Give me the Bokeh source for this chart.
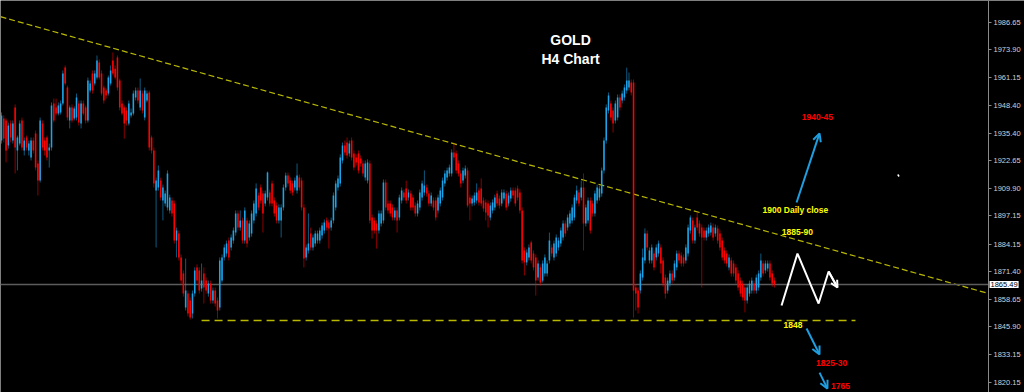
from bokeh.plotting import figure
from bokeh.models import (Label, Arrow, OpenHead, FixedTicker, LinearAxis,
                          NumeralTickFormatter, ColumnDataSource)
from bokeh.core.properties import value
from bokeh.embed import file_html
from bokeh.resources import INLINE

# ---------------- data (GOLD, H4 candles) ----------------
OPEN = [
1932.0,1942.2,1941.3,1929.7,1939.9,1932.0,1947.3,1927.4,1930.6,1941.3,
1927.4,1933.4,1927.4,1924.2,1932.0,1935.2,1921.4,1913.5,1939.9,1932.0,
1933.4,1927.4,1928.8,1949.1,1947.3,1944.5,1945.0,1949.1,1965.7,1956.5,
1941.3,1947.3,1942.2,1942.6,1949.1,1939.9,1949.1,1947.3,1941.3,1955.1,
1963.0,1958.4,1961.1,1968.1,1963.0,1956.5,1955.1,1953.7,1958.4,1969.0,
1965.2,1970.4,1959.7,1949.1,1947.3,1945.9,1939.9,1943.6,1944.5,1951.9,
1955.1,1947.3,1953.7,1942.6,1950.5,1954.2,1933.4,1927.4,1908.9,1910.3,
1913.5,1904.3,1902.9,1901.1,1899.7,1904.3,1902.9,1885.8,1889.0,1878.0,
1870.6,1854.9,1861.3,1858.1,1852.1,1861.3,1873.4,1872.0,1863.6,1870.6,
1867.3,1861.3,1865.9,1858.1,1862.7,1858.1,1854.9,1867.3,1878.0,1879.8,
1885.8,1882.6,1885.8,1889.5,1898.3,1891.8,1895.1,1885.8,1895.1,1887.2,
1889.0,1895.1,1898.3,1906.6,1910.3,1907.5,1902.9,1905.7,1908.0,1912.2,
1904.3,1902.0,1895.1,1895.1,1901.1,1910.3,1915.85,1913.5,1912.2,1910.3,
1908.9,1914.9,1913.5,1901.1,1878.0,1881.2,1889.0,1882.6,1884.4,1885.8,
1885.8,1888.1,1890.4,1895.1,1894.1,1891.8,1895.1,1901.1,1910.3,1912.2,
1922.8,1929.7,1931.1,1926.0,1932.0,1926.0,1924.2,1926.0,1923.7,1921.4,
1914.9,1913.5,1921.4,1896.4,1895.1,1893.7,1890.4,1893.7,1895.1,1912.6,
1902.9,1902.9,1901.1,1896.4,1899.7,1896.4,1904.3,1908.0,1909.8,1905.7,
1907.5,1905.7,1902.0,1898.3,1901.1,1905.7,1908.0,1910.3,1907.5,1902.9,
1904.3,1904.3,1899.7,1902.9,1905.7,1912.2,1914.9,1916.8,1916.8,1926.5,
1926.0,1921.4,1916.8,1913.5,1915.85,1918.2,1905.7,1902.9,1903.4,1904.3,
1908.9,1909.8,1904.3,1903.4,1902.9,1896.4,1899.7,1901.1,1907.5,1905.2,
1902.9,1905.2,1907.5,1902.9,1905.2,1908.9,1908.9,1909.8,1908.0,1899.7,
1881.2,1875.7,1878.0,1884.9,1879.8,1878.0,1868.7,1873.4,1867.3,1870.6,
1870.6,1876.6,1882.6,1878.0,1879.8,1882.6,1884.4,1887.2,1893.7,1891.8,
1893.7,1895.1,1896.4,1904.3,1908.0,1905.7,1910.3,1893.7,1895.1,1904.3,
1902.9,1898.3,1904.3,1905.7,1907.5,1918.2,1932.0,1945.9,1949.1,1945.9,
1941.3,1942.6,1951.9,1950.5,1951.9,1955.1,1956.5,1958.8,1958.8,1864.1,
1862.7,1862.7,1868.7,1876.6,1889.0,1876.6,1876.6,1879.8,1878.0,1879.8,
1882.6,1876.6,1868.7,1862.7,1865.9,1870.6,1868.7,1873.4,1879.8,1878.9,
1878.0,1876.6,1879.8,1890.4,1895.1,1885.8,1896.4,1893.7,1891.8,1890.4,
1887.2,1889.0,1889.5,1891.8,1889.0,1891.4,1889.0,1885.8,1881.2,1879.8,
1873.4,1876.6,1875.2,1873.4,1870.6,1867.3,1865.9,1864.1,1858.1,1861.3,
1862.7,1865.9,1862.7,1864.1,1868.7,1875.2,1872.0,1872.9,1875.2,1870.6,
1867.3]

HIGH = [
1945.0,1943.6,1942.2,1940.3,1941.3,1941.3,1948.7,1934.3,1941.3,1942.6,
1933.4,1934.3,1932.0,1933.4,1933.4,1936.6,1922.8,1942.6,1941.3,1933.4,
1934.3,1930.6,1949.6,1951.4,1951.4,1949.6,1950.5,1964.4,1966.7,1957.4,
1948.2,1948.7,1947.8,1953.7,1950.5,1950.5,1950.5,1948.2,1961.1,1959.7,
1964.4,1964.4,1971.3,1969.5,1964.4,1957.4,1956.0,1962.05,1966.7,1972.7,
1966.7,1971.3,1960.7,1950.5,1948.2,1947.3,1950.5,1946.8,1955.1,1956.5,
1956.5,1960.7,1955.1,1956.5,1955.1,1955.1,1934.3,1928.8,1914.9,1920.5,
1914.9,1911.7,1908.9,1918.2,1907.0,1905.7,1904.3,1891.8,1890.4,1879.4,
1872.0,1877.5,1862.7,1859.5,1862.7,1873.4,1874.8,1873.4,1875.2,1873.4,
1868.7,1867.3,1867.3,1864.1,1864.1,1859.5,1878.0,1879.4,1884.0,1885.8,
1887.2,1888.6,1891.8,1899.7,1899.7,1899.7,1896.4,1901.1,1896.4,1895.1,
1899.7,1904.3,1912.2,1908.0,1911.7,1908.9,1908.9,1917.7,1909.4,1913.5,
1905.7,1903.4,1902.5,1902.5,1911.7,1917.2,1917.2,1914.9,1913.5,1914.9,
1921.4,1916.3,1914.9,1902.5,1884.0,1898.3,1891.8,1888.6,1890.4,1890.4,
1891.8,1894.1,1895.5,1896.4,1895.5,1896.4,1908.0,1913.5,1915.85,1925.6,
1931.1,1932.0,1933.4,1932.0,1933.4,1927.4,1925.6,1927.4,1925.1,1922.8,
1922.8,1923.3,1922.8,1897.8,1896.4,1895.1,1899.7,1899.7,1914.0,1914.0,
1904.3,1904.3,1902.5,1901.1,1901.1,1907.0,1910.3,1909.4,1913.5,1909.4,
1908.9,1907.0,1903.4,1904.3,1909.4,1913.5,1918.2,1911.7,1908.9,1908.0,
1905.7,1905.7,1907.0,1910.3,1914.9,1918.2,1919.5,1920.9,1927.9,1930.6,
1927.4,1922.8,1918.2,1919.5,1920.5,1919.5,1907.0,1906.6,1908.0,1912.2,
1910.3,1914.5,1905.7,1904.8,1904.3,1903.4,1904.8,1907.0,1908.9,1906.6,
1909.4,1909.4,1908.9,1908.0,1910.3,1910.3,1910.3,1911.2,1909.4,1901.1,
1882.6,1881.7,1884.0,1885.8,1881.2,1879.4,1876.6,1874.8,1876.6,1879.4,
1876.6,1889.5,1884.0,1885.8,1888.6,1887.2,1891.8,1895.1,1895.1,1897.8,
1899.7,1902.5,1907.0,1911.2,1909.4,1913.5,1916.8,1902.5,1905.7,1905.7,
1904.3,1908.9,1911.7,1911.2,1919.5,1933.4,1948.7,1954.2,1950.5,1947.3,
1950.5,1953.3,1953.3,1955.1,1957.9,1965.7,1963.4,1960.2,1960.2,1865.5,
1864.1,1872.0,1882.1,1891.4,1890.4,1882.6,1884.0,1881.2,1884.0,1885.8,
1884.0,1878.0,1870.1,1868.7,1872.0,1872.0,1876.6,1881.2,1881.2,1880.3,
1879.4,1884.0,1893.2,1897.4,1896.4,1893.2,1898.8,1895.1,1893.2,1891.8,
1891.8,1893.2,1894.1,1893.7,1893.2,1892.75,1890.4,1887.2,1882.6,1881.2,
1879.4,1878.0,1876.6,1874.8,1872.0,1868.7,1867.3,1865.5,1865.5,1867.3,
1868.7,1867.3,1870.1,1872.0,1879.8,1876.6,1876.6,1876.6,1876.6,1872.0,
1868.7]

LOW = [
1930.6,1931.1,1921.9,1928.3,1931.1,1930.6,1916.8,1918.2,1929.7,1927.4,
1925.1,1927.4,1925.1,1922.8,1926.0,1918.2,1906.6,1912.6,1927.4,1925.1,
1922.8,1919.5,1927.4,1940.3,1943.6,1943.6,1944.0,1948.2,1957.4,1941.3,
1937.6,1940.3,1941.3,1941.3,1938.95,1937.6,1943.6,1939.9,1940.3,1954.2,
1953.7,1957.4,1960.2,1960.2,1952.8,1949.1,1951.4,1952.8,1957.4,1962.05,
1960.2,1955.1,1945.9,1943.6,1932.9,1938.95,1938.95,1942.6,1943.6,1950.5,
1949.1,1945.9,1944.5,1941.3,1949.6,1927.4,1926.0,1910.3,1882.6,1908.9,
1904.3,1895.1,1901.6,1899.7,1898.3,1896.9,1884.4,1878.0,1876.6,1865.9,
1859.9,1853.5,1850.7,1849.3,1849.8,1859.9,1865.9,1861.3,1862.2,1856.7,
1861.3,1859.9,1856.7,1856.7,1855.3,1849.8,1853.5,1866.4,1876.6,1878.4,
1876.6,1881.2,1884.4,1888.1,1890.4,1890.4,1884.4,1884.4,1882.6,1885.8,
1887.6,1893.7,1896.9,1899.7,1902.9,1889.5,1901.6,1904.3,1901.6,1901.6,
1896.9,1893.7,1893.7,1887.2,1899.7,1908.9,1910.8,1907.5,1906.6,1908.9,
1907.5,1908.9,1899.7,1873.4,1876.6,1879.8,1881.2,1881.2,1883.0,1884.4,
1884.4,1886.7,1889.0,1890.4,1882.1,1890.4,1893.7,1899.7,1908.9,1910.8,
1921.4,1925.1,1923.7,1924.6,1922.8,1918.2,1920.5,1916.8,1920.0,1915.4,
1913.5,1912.2,1893.7,1886.7,1889.0,1882.1,1889.0,1892.3,1893.7,1899.7,
1898.3,1896.9,1895.1,1895.1,1889.5,1895.1,1902.9,1904.3,1902.9,1904.3,
1899.7,1899.7,1896.9,1896.9,1899.7,1904.3,1906.6,1906.1,1901.6,1901.6,
1899.7,1895.1,1898.3,1901.6,1904.3,1910.8,1913.5,1915.4,1915.4,1922.8,
1916.8,1915.4,1910.3,1912.2,1914.5,1901.1,1895.1,1901.6,1902.0,1902.9,
1902.0,1901.6,1899.2,1895.1,1891.8,1895.1,1898.3,1899.7,1901.6,1900.6,
1901.6,1904.3,1899.7,1901.6,1903.8,1905.2,1901.6,1904.3,1898.3,1875.2,
1869.65,1874.3,1876.6,1875.2,1872.0,1860.4,1867.3,1865.0,1866.4,1869.2,
1869.2,1875.2,1878.4,1876.6,1878.4,1881.2,1883.0,1885.8,1887.6,1890.4,
1892.3,1893.7,1895.1,1902.9,1901.6,1904.3,1881.2,1892.3,1893.7,1889.0,
1896.9,1896.9,1902.9,1904.3,1906.1,1916.8,1930.6,1944.5,1941.3,1935.7,
1939.9,1941.3,1945.9,1949.1,1950.5,1953.7,1955.1,1952.8,1850.2,1853.5,
1852.1,1861.3,1867.3,1875.2,1881.2,1875.2,1875.2,1872.0,1876.6,1878.4,
1870.6,1864.5,1859.0,1861.3,1864.5,1865.9,1867.3,1872.0,1875.2,1873.8,
1873.8,1875.2,1878.4,1889.0,1884.4,1884.4,1890.4,1887.6,1864.1,1885.8,
1885.8,1887.6,1888.1,1885.8,1887.6,1884.4,1881.2,1876.6,1875.2,1873.8,
1872.0,1869.2,1869.2,1865.9,1862.7,1859.9,1858.1,1852.6,1856.7,1859.9,
1861.3,1861.3,1861.3,1862.7,1867.3,1869.2,1870.6,1871.5,1867.3,1864.5,
1864.1]

CLOSE = [
1943.6,1932.9,1927.4,1938.95,1933.4,1939.9,1928.8,1933.4,1939.9,1928.8,
1932.0,1928.8,1930.6,1932.0,1927.4,1919.5,1913.5,1941.3,1928.8,1927.4,
1924.2,1928.8,1948.2,1941.3,1944.5,1948.2,1949.1,1963.0,1958.4,1942.6,
1947.3,1941.3,1946.8,1951.9,1940.3,1949.1,1944.5,1941.3,1959.7,1958.4,
1955.1,1963.0,1969.0,1961.1,1953.7,1950.5,1952.8,1961.1,1964.4,1963.0,
1961.1,1956.5,1947.3,1944.5,1939.9,1941.3,1949.1,1945.0,1953.7,1955.1,
1950.5,1955.1,1945.9,1955.1,1953.7,1928.8,1927.4,1912.2,1913.5,1918.2,
1905.7,1910.3,1907.5,1916.8,1905.7,1898.3,1885.8,1890.4,1878.0,1867.3,
1861.3,1862.7,1852.1,1850.2,1861.3,1872.0,1867.3,1862.7,1867.3,1864.1,
1862.7,1865.9,1858.1,1862.7,1856.7,1853.5,1876.6,1878.0,1882.6,1884.4,
1878.0,1887.2,1890.4,1898.3,1891.8,1895.1,1885.8,1899.7,1884.4,1893.7,
1898.3,1902.9,1909.8,1901.1,1904.3,1898.3,1907.5,1917.2,1902.9,1902.9,
1898.3,1895.1,1901.1,1901.1,1910.3,1915.85,1912.2,1908.9,1908.0,1913.5,
1915.85,1910.3,1901.1,1877.5,1882.6,1884.4,1882.6,1887.2,1889.0,1889.0,
1890.4,1892.75,1894.1,1891.8,1891.4,1895.1,1906.6,1912.2,1914.5,1924.2,
1929.7,1926.5,1925.1,1930.6,1924.2,1919.5,1921.9,1918.2,1921.4,1916.8,
1921.4,1921.9,1895.1,1890.4,1890.4,1890.4,1898.3,1898.3,1912.6,1901.1,
1899.7,1898.3,1896.4,1899.7,1895.1,1905.7,1908.9,1905.7,1904.3,1908.0,
1901.1,1901.1,1898.3,1902.9,1908.0,1912.2,1911.2,1907.5,1902.9,1906.6,
1901.1,1896.4,1905.7,1908.9,1913.5,1916.8,1918.2,1919.5,1926.5,1924.2,
1918.2,1916.8,1912.2,1918.2,1919.1,1902.0,1902.9,1905.2,1906.6,1908.0,
1903.4,1902.9,1900.6,1898.8,1897.4,1902.0,1903.4,1905.7,1902.9,1902.0,
1908.0,1908.0,1901.1,1906.6,1908.9,1906.6,1902.9,1905.7,1899.7,1876.6,
1875.7,1880.3,1882.6,1876.6,1873.4,1867.3,1875.2,1866.4,1875.2,1878.0,
1875.2,1885.8,1879.8,1884.4,1887.2,1885.8,1890.4,1893.7,1889.0,1896.4,
1898.3,1901.1,1905.7,1908.9,1902.9,1910.3,1893.7,1901.1,1904.3,1890.4,
1898.3,1907.5,1910.3,1909.8,1918.2,1932.0,1947.3,1952.8,1942.6,1939.9,
1949.1,1951.9,1947.3,1953.7,1956.5,1959.7,1959.7,1954.2,1862.7,1861.3,
1854.9,1870.6,1878.0,1889.0,1882.6,1881.2,1882.6,1873.4,1882.6,1884.4,
1875.2,1865.9,1861.3,1867.3,1870.6,1867.3,1875.2,1879.8,1876.6,1875.2,
1875.2,1882.6,1891.8,1896.4,1885.8,1891.8,1891.8,1889.0,1887.2,1887.2,
1890.4,1891.8,1892.75,1887.2,1891.8,1885.8,1882.6,1878.0,1876.6,1875.2,
1878.0,1870.6,1870.6,1867.3,1864.1,1861.3,1859.5,1858.1,1864.1,1865.9,
1867.3,1862.7,1868.7,1870.6,1876.6,1870.6,1875.2,1875.2,1868.7,1865.9,
1865.49]

YTICKS = [1820.15, 1833.15, 1845.90, 1858.65, 1871.40, 1884.15, 1897.15,
          1909.90, 1922.65, 1935.40, 1948.40, 1961.15, 1973.90, 1986.65]

TITLE_TEXT = ["GOLD", "H4 Chart"]
TITLE_BAR = [250.3, 250.3]
TITLE_PRICE = [1978.6, 1969.6]

NOTE_TEXT = ["1940-45", "1900 Daily close", "1885-90", "1848", "1825-30", "1765"]
NOTE_BAR = [358.9, 349.2, 350.1, 348.1, 365.1, 369.0]
NOTE_PRICE = [1942.9, 1899.7, 1889.7, 1846.6, 1829.0, 1818.8]
NOTE_KIND = ["target", "level", "level", "level", "target", "target"]

ARROW_BAR0 = [349.7, 354.1, 359.8]
ARROW_P0 = [1903.4, 1845.2, 1824.8]
ARROW_BAR1 = [359.8, 359.8, 363.3]
ARROW_P1 = [1935.3, 1833.2, 1817.4]

ZIG_BAR = [343.1, 350.1, 359.4, 363.8, 367.7]
ZIG_PRICE = [1855.8, 1879.8, 1856.7, 1871.5, 1864.1]

SUPPORT_PRICE = 1848.9
SUPPORT_BARS = [88.0, 375.6]

TREND_BAR = [37.0, 420.0]
TREND_PRICE = [1978.2, 1865.5]

DOT_BAR = [394.2, 394.8]
DOT_PRICE = [1916.3, 1915.4]

# ---------------- styling / layout ----------------
BULL = "#1ca3e8"
BEAR = "#ff0000"
ARROW_BLUE = "#1f9ee0"
YELLOW = "#ffff00"
LINE_YELLOW = "#b8b800"
KIND_COLOR = {"target": "#ff0000", "level": YELLOW}
FONT = "Liberation Sans"

W, H = 1024, 392
AXIS_PX = 988                        # where the price scale sits
PX_PER_BAR = 773 / (len(CLOSE) - 1)
x_start = -1 / PX_PER_BAR
x_end = x_start + W / PX_PER_BAR
axis_x = x_start + AXIS_PX / PX_PER_BAR

p = figure(width=W, height=H, x_range=(x_start, x_end),
           y_range=(1815.6, 1996.7), output_backend="svg",
           toolbar_location=None, x_axis_location=None, y_axis_location=None,
           min_border=0,
           background_fill_color="black", border_fill_color="black",
           outline_line_color=None)
p.grid.visible = False

ax = LinearAxis(fixed_location=axis_x)
ax.ticker = FixedTicker(ticks=YTICKS)
ax.formatter = NumeralTickFormatter(format="0.00")
ax.axis_line_color = "#8a8a8a"
ax.major_tick_line_color = "#8a8a8a"
ax.minor_tick_line_color = None
ax.major_tick_out = 3
ax.major_tick_in = 0
ax.major_label_standoff = 2
ax.major_label_text_color = "#d0d0d0"
ax.major_label_text_font = FONT
ax.major_label_text_font_size = "7.5px"
p.add_layout(ax, "right")

# trendline and support (stop at the price scale)
grad = (TREND_PRICE[1] - TREND_PRICE[0]) / (TREND_BAR[1] - TREND_BAR[0])
icpt = TREND_PRICE[0] - grad * TREND_BAR[0]
p.line([x_start, axis_x], [icpt + grad * x_start, icpt + grad * axis_x],
       line_color=LINE_YELLOW, line_width=1.2, line_dash="6 3")
p.line(SUPPORT_BARS, [SUPPORT_PRICE, SUPPORT_PRICE], line_color=LINE_YELLOW,
       line_width=1.5, line_dash="8 5")

# current price line
p.line([x_start, axis_x], [CLOSE[-1], CLOSE[-1]], line_color="#5c5c5c",
       line_width=1.5)

# candles
idx = list(range(len(CLOSE)))
col = [BULL if c >= o else BEAR for o, c in zip(OPEN, CLOSE)]
src = ColumnDataSource(dict(
    x=idx, h=HIGH, l=LOW,
    top=[max(o, c) for o, c in zip(OPEN, CLOSE)],
    bot=[min(o, c) for o, c in zip(OPEN, CLOSE)],
    color=col))
p.segment(x0="x", y0="h", x1="x", y1="l", line_color="color",
          line_alpha=0.55, line_width=1, source=src)
p.vbar(x="x", top="top", bottom="bot", width=0.68, fill_color="color",
       line_color=None, source=src)

# title
p.text(x=TITLE_BAR, y=TITLE_PRICE, text=TITLE_TEXT, text_color="white",
       text_font=value(FONT), text_font_size="14px", text_font_style="bold",
       text_align="center", text_baseline="middle")

# notes
p.text(x=NOTE_BAR, y=NOTE_PRICE, text=NOTE_TEXT,
       text_color=[KIND_COLOR[k] for k in NOTE_KIND],
       text_font=value(FONT), text_font_size="8.5px", text_font_style="bold",
       text_align="center", text_baseline="middle")

# blue arrows
for x0, y0, x1, y1 in zip(ARROW_BAR0, ARROW_P0, ARROW_BAR1, ARROW_P1):
    p.add_layout(Arrow(end=OpenHead(size=8, line_color=ARROW_BLUE, line_width=2),
                       x_start=x0, y_start=y0, x_end=x1, y_end=y1,
                       line_color=ARROW_BLUE, line_width=2))

# white projected zigzag
p.line(ZIG_BAR, ZIG_PRICE, line_color="white", line_width=2)
p.add_layout(Arrow(end=OpenHead(size=7, line_color="white", line_width=2),
                   x_start=ZIG_BAR[-2], y_start=ZIG_PRICE[-2],
                   x_end=ZIG_BAR[-1], y_end=ZIG_PRICE[-1],
                   line_color="white", line_width=2))

# tiny white mark
p.line(DOT_BAR, DOT_PRICE, line_color="white", line_width=1.5)

# current price box on the scale
p.add_layout(Label(x=axis_x, y=CLOSE[-1], x_offset=1,
                   text="%.2f" % CLOSE[-1], text_color="black",
                   text_font=FONT, text_font_size="7.5px",
                   text_align="left", text_baseline="middle",
                   background_fill_color="white", padding=1))

open("out.html", "w").write(file_html(p, INLINE))
